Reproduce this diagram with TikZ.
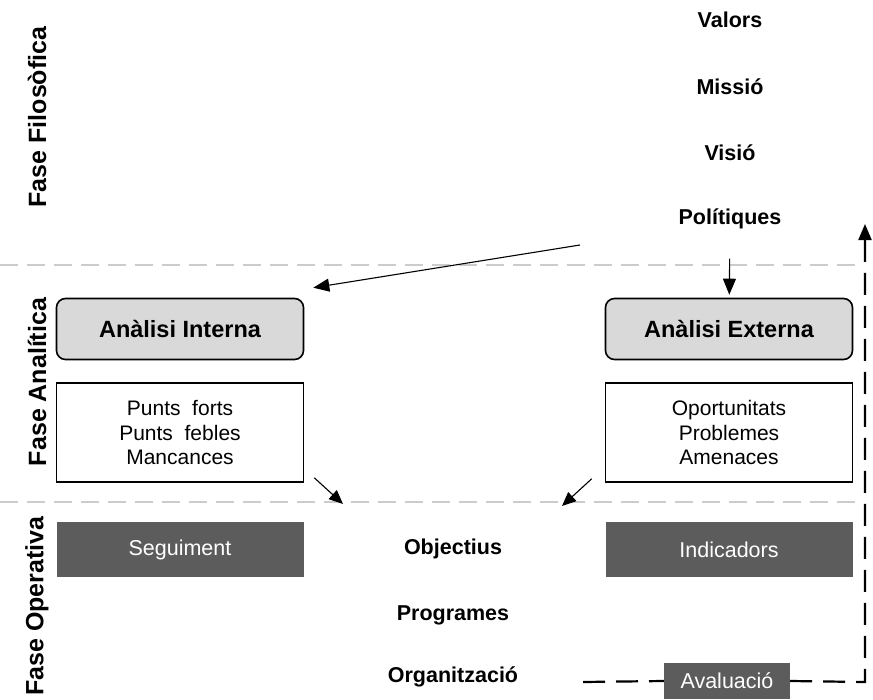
\documentclass[tikz,border=0pt]{standalone}
\usepackage{fontspec}
\setmainfont{Liberation Sans}
\usetikzlibrary{arrows.meta}

\begin{document}
\begin{tikzpicture}[x=1pt,y=-1pt,
    lbl/.style={font=\fontsize{21.5}{24}\selectfont\bfseries},
    fase/.style={rotate=90, font=\fontsize{25}{28}\selectfont\bfseries},
    anbox/.style={draw, line width=1.6pt, rounded corners=9pt, fill=gray!30,
        minimum width=247pt, minimum height=61pt, font=\fontsize{23.5}{27}\selectfont\bfseries},
    listbox/.style={draw, line width=1.6pt, fill=white, minimum width=247pt, minimum height=99pt,
        align=center, font=\fontsize{21}{24.5}\selectfont},
    darkbox/.style={fill=black!64, text=white, minimum width=247pt, minimum height=55pt,
        font=\fontsize{21.5}{25}\selectfont},
    phaseline/.style={gray!40, line width=1.2pt, dash pattern=on 18pt off 9pt},
    arr/.style={-{Triangle[length=16pt,width=13pt]}, line width=1.1pt},
    evalline/.style={line width=2.2pt, dash pattern=on 22pt off 11pt}]
    \useasboundingbox (0,0) rectangle (873,699);
    % phase separators
    \draw[phaseline] (0,265) -- (862,265);
    \draw[phaseline] (0,502) -- (862,502);
    % phase names
    \node[fase] (ffil) at (37,117) {Fase Filosòfica};
    \node[fase] (fana) at (37,382) {Fase Analítica};
    \node[fase] (fope) at (37,606) {Fase Operativa};
    % philosophical phase
    \node[lbl] (valors) at (730,20) {Valors};
    \node[lbl] (missio) at (730,87) {Missió};
    \node[lbl] (visio) at (730,153) {Visió};
    \node[lbl] (polit) at (730,219) {Polítiques};
    % analytical phase
    \node[anbox] (anint) at (180,329) {Anàlisi Interna};
    \node[anbox] (anext) at (729,329) {Anàlisi Externa};
    \node[listbox] (lstint) at (180,432.5) {Punts\ \ forts\\Punts\ \ febles\\Mancances};
    \node[listbox] (lstext) at (729,432.5) {Oportunitats\\Problemes\\Amenaces};
    % operative phase
    \node[darkbox] (segui) at (180,549.5) {Seguiment};
    \node[darkbox] (indic) at (729,549.5) {Indicadors};
    \node[lbl] (objec) at (453,549) {Objectius};
    \node[lbl] (progr) at (453,615) {Programes};
    \node[lbl] (organ) at (453,677) {Organització};
    \node[darkbox, minimum width=126pt, minimum height=36pt] (aval) at (727,681) {Avaluació};
    % arrows
    \coordinate (pfrom) at (580,245);
    \coordinate (objl) at (343,504);
    \coordinate (objr) at (562,506);
    \draw[arr] (pfrom) -- ([xshift=9pt,yshift=10pt]anint.north east);
    \draw[arr, shorten <=26pt, shorten >=3pt] (polit) -- (anext);
    \draw[arr, -{Triangle[length=14pt,width=12pt]}] ([xshift=10pt,yshift=5pt]lstint.south east) -- (objl);
    \draw[arr, -{Triangle[length=14pt,width=12pt]}] ([xshift=-13pt,yshift=4pt]lstext.south west) -- (objr);
    % evaluation loop
    \coordinate (lpstart) at (583,682);
    \coordinate (lpcorner) at (865,682);
    \coordinate (lpend) at (865,224);
    \draw[evalline] (lpstart) -- (aval.west);
    \draw[evalline, -{Triangle[length=16pt,width=13pt]}] (aval.east) -- (lpcorner) -- (lpend);
\end{tikzpicture}
\end{document}
